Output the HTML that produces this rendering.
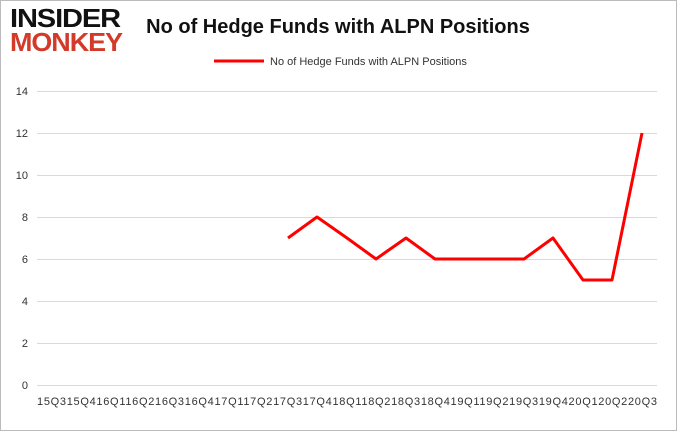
<!DOCTYPE html>
<html><head><style>
body{margin:0;width:677px;height:431px;overflow:hidden;background:#fff;font-family:"Liberation Sans",sans-serif}
</style></head><body>
<svg width="677" height="431" xmlns="http://www.w3.org/2000/svg" font-family="Liberation Sans, sans-serif">
<rect x="0.5" y="0.5" width="676" height="430" fill="#fff" stroke="#bbb"/>
<text x="10" y="27" font-size="26" font-weight="900" fill="#111" letter-spacing="-1" textLength="110" lengthAdjust="spacingAndGlyphs">INSIDER</text>
<text x="10" y="51" font-size="26" font-weight="900" fill="#d33a2a" letter-spacing="-1" textLength="112" lengthAdjust="spacingAndGlyphs">MONKEY</text>
<text x="338" y="33" font-size="20" font-weight="bold" text-anchor="middle" fill="#111">No of Hedge Funds with ALPN Positions</text>
<line x1="214" y1="61" x2="264" y2="61" stroke="#f00" stroke-width="3"/>
<text x="270" y="65" font-size="11" fill="#333">No of Hedge Funds with ALPN Positions</text>
<g stroke="#d9d9d9" stroke-width="1">
<line x1="37" y1="91.5" x2="657" y2="91.5"/><line x1="37" y1="133.5" x2="657" y2="133.5"/>
<line x1="37" y1="175.5" x2="657" y2="175.5"/><line x1="37" y1="217.5" x2="657" y2="217.5"/>
<line x1="37" y1="259.5" x2="657" y2="259.5"/><line x1="37" y1="301.5" x2="657" y2="301.5"/>
<line x1="37" y1="343.5" x2="657" y2="343.5"/><line x1="37" y1="385.5" x2="657" y2="385.5"/>
</g>
<g font-size="11" fill="#333" text-anchor="end">
<text x="28" y="95">14</text><text x="28" y="137">12</text><text x="28" y="179">10</text>
<text x="28" y="221">8</text><text x="28" y="263">6</text><text x="28" y="305">4</text>
<text x="28" y="347">2</text><text x="28" y="389">0</text>
</g>
<text x="37" y="405" font-size="11" fill="#333" textLength="620" lengthAdjust="spacing">15Q315Q416Q116Q216Q316Q417Q117Q217Q317Q418Q118Q218Q318Q419Q119Q219Q319Q420Q120Q220Q3</text>
<polyline fill="none" stroke="#f00" stroke-width="3" stroke-linejoin="round" points="288,238 317,217 347,238 376,259 406,238 435,259 465,259 494,259 524,259 553,238 583,280 612,280 642,133"/>
</svg>
</body></html>
